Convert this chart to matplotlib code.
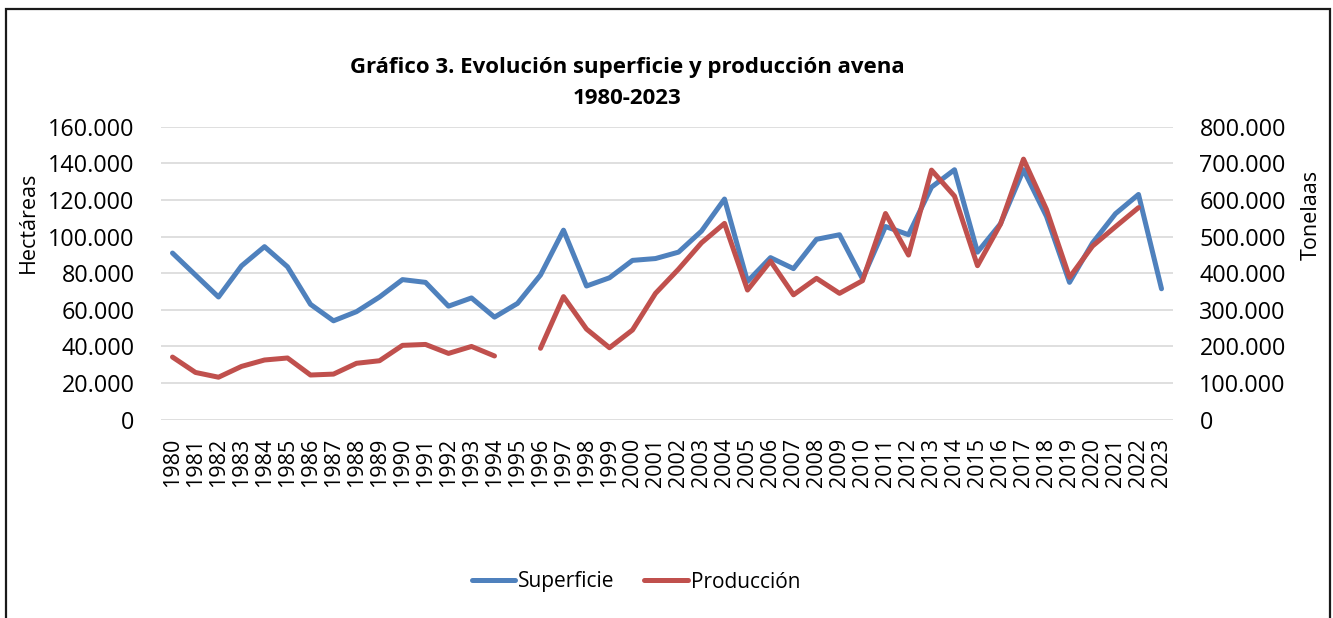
import numpy as np
import matplotlib
matplotlib.use('Agg')
import matplotlib.pyplot as plt
from matplotlib.ticker import FuncFormatter, MultipleLocator
from matplotlib.patches import Rectangle

plt.rcParams['font.family'] = ['Open Sans', 'DejaVu Sans']

# datos
anios = [str(a) for a in range(1980, 2024)]
superficie = [91000, 79000, 67000, 84000, 94500, 83500, 63000, 54000, 59000, 67000,
              76500, 75000, 62000, 66500, 56000, 63500, 79000, 103500, 73000, 77500,
              87000, 88000, 91500, 103000, 120500, 75500, 88500, 82500, 98500, 101000,
              77000, 105500, 101000, 127000, 136500, 91500, 107000, 136500, 111000, 75000,
              96500, 112500, 123000, 71500]
produccion = [171000, 129000, 116000, 145500, 163000, 168500, 122000, 124500, 154000, 161000,
              203000, 205500, 181000, 200000, 174000, np.nan, 195000, 336000, 247500, 196500,
              245000, 345000, 411000, 483000, 536000, 354000, 433000, 341000, 386000, 345000,
              379500, 563000, 449500, 681500, 610500, 420500, 534000, 711500, 574000, 388500,
              474000, 527000, 579000, np.nan]

azul = '#4F81BD'
rojo = '#C0504D'
W, H = 1333, 618

fig = plt.figure(figsize=(W / 100, H / 100), dpi=100)
ax = fig.add_axes([161 / W, 1 - 419.7 / H, (1173 - 161) / W, (419.7 - 126.7) / H])
ax2 = ax.twinx()

x = np.arange(len(anios))
l1, = ax.plot(x, superficie, color=azul, lw=3.6, solid_capstyle='round', solid_joinstyle='round',
              label='Superficie')
l2, = ax2.plot(x, produccion, color=rojo, lw=3.6, solid_capstyle='round', solid_joinstyle='round',
               label='Producción')

ax.set_xlim(-0.5, len(anios) - 0.5)
ax.set_ylim(0, 160000)
ax2.set_ylim(0, 800000)
ax.yaxis.set_major_locator(MultipleLocator(20000))
ax2.yaxis.set_major_locator(MultipleLocator(100000))

fmt = FuncFormatter(lambda v, p: f'{int(v):,}'.replace(',', '.'))
ax.yaxis.set_major_formatter(fmt)
ax2.yaxis.set_major_formatter(fmt)

ax.set_xticks(x)
ax.set_xticklabels(anios, rotation=90, fontsize=15.5)
ax.grid(axis='y', color='#D9D9D9', lw=1.2)
ax.set_axisbelow(True)
for a in (ax, ax2):
    for s in a.spines.values():
        s.set_visible(False)
ax.tick_params(axis='x', length=0, pad=13)
ax.tick_params(axis='y', length=0, pad=19, labelsize=16.8)
ax2.tick_params(axis='y', length=0, pad=19, labelsize=16.8)

# titulos
fig.text(627 / W, 1 - 67 / H, 'Gráfico 3. Evolución superficie y producción avena',
         ha='center', va='center', fontsize=16, fontweight='bold')
fig.text(627 / W, 1 - 98 / H, '1980-2023', ha='center', va='center', fontsize=16, fontweight='bold')
fig.text(28 / W, 1 - 222 / H, 'Hectáreas', rotation=90, ha='center', va='center', fontsize=15.5)
fig.text(1311 / W, 1 - 215 / H, 'Tonelaas', rotation=90, ha='center', va='center', fontsize=15.5)

fig.legend(handles=[l1, l2], loc='center', bbox_to_anchor=(636 / W, 1 - 582 / H), ncol=2,
           frameon=False, fontsize=15, handlelength=2.1, handletextpad=0.15, columnspacing=1.4)

# borde
fig.patches.append(Rectangle((6 / W, -0.05), (1330 - 6) / W, 1.05 - 9 / H,
                             transform=fig.transFigure, fill=False, ec='#1a1a1a', lw=1.6))

fig.savefig('out.png', dpi=100)
